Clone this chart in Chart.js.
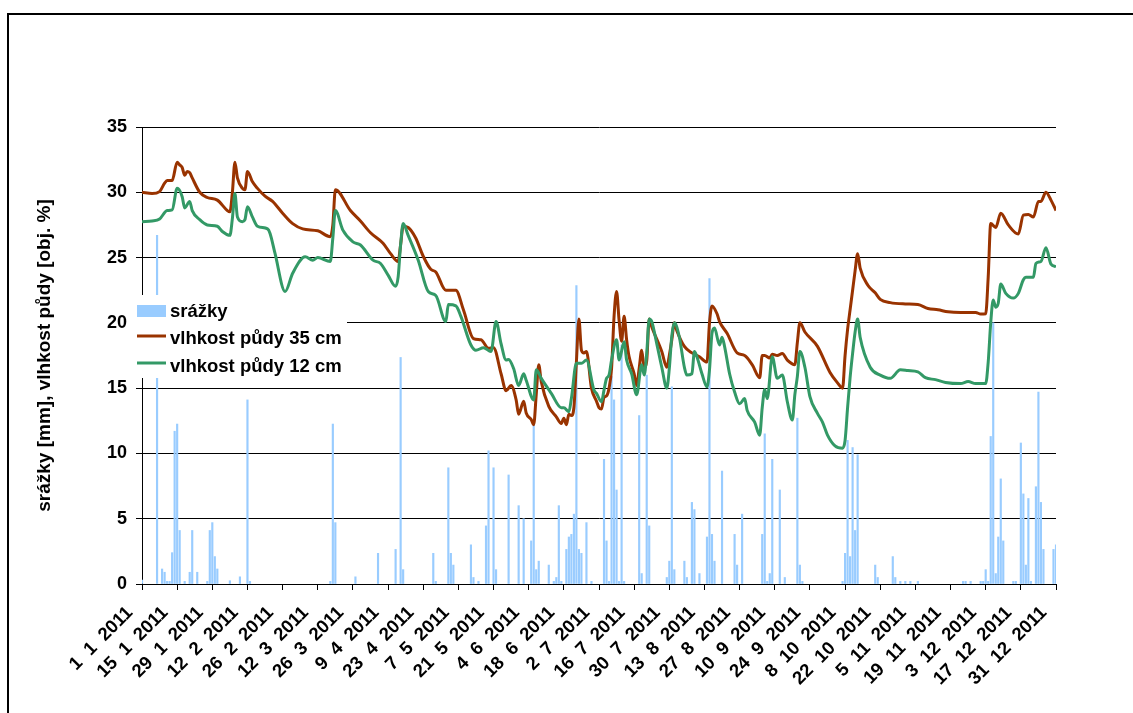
<!DOCTYPE html>
<html>
<head>
<meta charset="utf-8">
<script src="https://cdn.jsdelivr.net/npm/chart.js@4.4.1/dist/chart.umd.min.js"></script>
<style>
html,body{margin:0;padding:0;background:#fff;}
#wrap{position:relative;width:1133px;height:713px;overflow:hidden;}
canvas{display:block;}
</style>
</head>
<body>
<div id="wrap"><canvas id="c" width="1133" height="713"></canvas></div>
<script>
// ---- data (day index 0 = 1 1 2011) ----
const tickLabels = ["1  1  2011","15  1  2011","29  1  2011","12  2  2011","26  2  2011","12  3  2011","26  3  2011",
  "9  4  2011","23  4  2011","7  5  2011","21  5  2011","4  6  2011","18  6  2011","2  7  2011","16  7  2011",
  "30  7  2011","13  8  2011","27  8  2011","10  9  2011","24  9  2011","8  10  2011","22  10  2011","5  11  2011",
  "19  11  2011","3  12  2011","17  12  2011","31  12  2011"];
const seriesNames = ["srážky", "vlhkost půdy 35 cm", "vlhkost půdy 12 cm"];
const yAxisTitle = "srážky [mm], vlhkost půdy [obj. %]";

// precipitation [day, mm]
const rainfall = [[0,0.3],[6,26.7],[8,1.15],[9,0.9],[10,0.2],[11,0.2],[12,2.4],[13,11.7],[14,12.25],[15,4.1],[17,0.2],[19,0.9],[20,4.1],[22,0.9],[26,0.2],[27,4.1],[28,4.7],[29,2.1],[30,1.15],[35,0.25],[39,0.55],[42,14.1],[43,0.2],[75,0.2],[76,12.25],[77,4.7],[85,0.55],[94,2.35],[101,2.65],[103,17.35],[104,1.1],[116,2.35],[117,0.2],[122,8.9],[123,2.35],[124,1.45],[131,3.0],[132,0.5],[134,0.2],[137,4.45],[138,10.2],[140,8.9],[141,1.1],[146,8.35],[150,6.0],[152,5.0],[155,3.3],[156,12.25],[157,1.1],[158,1.75],[162,1.45],[164,0.2],[165,0.5],[166,6.0],[167,0.2],[169,2.65],[170,3.6],[171,3.8],[172,5.35],[173,22.85],[174,2.65],[175,2.35],[177,4.7],[179,0.2],[184,9.55],[185,3.3],[186,0.2],[187,15.9],[188,14.1],[189,7.2],[190,0.2],[191,18.3],[192,0.2],[198,12.9],[199,0.8],[201,16.0],[202,4.45],[209,0.5],[210,1.75],[211,15.1],[212,1.1],[216,1.75],[217,0.5],[219,6.25],[220,5.7],[222,0.8],[225,3.6],[226,23.4],[227,3.8],[228,1.75],[231,8.65],[236,3.8],[237,1.45],[239,5.35],[247,3.8],[248,11.5],[249,0.2],[250,0.8],[251,9.55],[254,7.2],[256,0.5],[261,12.7],[262,1.45],[263,0.2],[279,0.2],[280,2.35],[281,11.0],[282,2.1],[283,10.45],[284,4.1],[285,9.9],[292,1.45],[293,0.5],[299,2.1],[300,0.5],[302,0.2],[304,0.2],[306,0.2],[309,0.2],[327,0.2],[328,0.2],[330,0.2],[334,0.2],[335,0.2],[336,1.1],[337,0.2],[338,11.3],[339,20.0],[340,0.8],[341,3.6],[342,8.05],[343,3.3],[347,0.2],[348,0.2],[350,10.8],[351,6.9],[352,1.45],[353,6.55],[354,0.2],[356,7.45],[357,14.7],[358,6.25],[359,2.65],[363,2.65],[364,3.0]];

// soil moisture 35 cm [day, %]
const soil35 = [[0,30.0],[4,29.9],[7,30.05],[9,30.7],[10,30.9],[12,30.9],[14,32.3],[15,32.1],[16,31.9],[17,31.3],[18,31.6],[19,31.5],[20,31.1],[23,30.0],[26,29.6],[30,29.4],[34,28.6],[35,28.5],[36,30.0],[37,32.3],[38,31.1],[40,30.3],[41,30.2],[42,31.6],[44,30.8],[46,30.3],[49,29.7],[52,29.3],[56,28.4],[60,27.6],[64,27.2],[70,27.05],[75,26.6],[76,27.5],[77,30.2],[83,28.6],[87,27.8],[91,26.9],[96,26.1],[99,25.3],[102,24.7],[103,26.0],[104,27.4],[106,27.3],[109,26.5],[112,25.1],[115,24.1],[117,23.9],[121,22.5],[125,22.5],[128,21.0],[132,18.8],[135,18.7],[138,18.05],[140,18.1],[143,16.1],[145,14.8],[147,15.2],[149,14.1],[150,13.0],[152,14.0],[153,13.1],[155,12.6],[156,12.2],[157,14.5],[158,16.8],[159,15.5],[162,13.6],[165,12.8],[167,12.3],[168,12.7],[169,12.2],[170,13.0],[171,12.9],[172,13.5],[173,17.0],[174,20.3],[175,17.9],[176,17.7],[177,17.8],[179,15.0],[181,14.0],[182,13.5],[183,13.4],[184,14.3],[185,14.4],[186,15.0],[187,16.5],[188,20.5],[189,22.4],[190,20.2],[191,18.6],[192,20.5],[193,18.7],[194,17.4],[196,16.1],[197,15.2],[198,16.5],[199,17.9],[200,16.6],[201,17.1],[202,20.3],[203,19.7],[207,17.8],[209,16.6],[210,17.5],[211,18.7],[212,20.0],[213,19.4],[216,18.2],[219,17.7],[222,17.4],[225,17.0],[226,20.0],[227,21.3],[229,20.7],[230,20.1],[233,19.2],[237,17.7],[240,17.5],[243,16.8],[246,15.8],[247,17.5],[248,17.5],[250,17.3],[251,17.6],[253,17.5],[255,17.65],[257,17.15],[260,16.8],[261,18.5],[262,20.0],[264,19.3],[269,18.2],[274,16.2],[277,15.4],[279,15.0],[280,17.5],[281,19.5],[282,21.0],[283,22.5],[284,24.0],[285,25.3],[286,24.2],[289,22.9],[292,22.3],[294,21.8],[298,21.55],[304,21.45],[309,21.4],[313,21.1],[317,21.0],[321,20.85],[326,20.8],[332,20.8],[334,20.67],[336,20.7],[337,23.5],[338,27.6],[340,27.3],[342,28.4],[345,27.5],[349,26.8],[351,28.25],[353,28.3],[355,28.1],[357,29.3],[358,29.3],[360,30.0],[362,29.4],[364,28.6]];

// soil moisture 12 cm [day, %]
const soil12 = [[0,27.75],[4,27.8],[7,27.95],[10,28.6],[12,28.65],[14,30.3],[16,29.66],[17,28.8],[19,29.3],[20,28.6],[23,27.9],[26,27.5],[30,27.4],[32,27.0],[35,26.7],[36,28.0],[37,29.9],[38,28.1],[40,27.75],[41,27.9],[42,28.9],[44,28.1],[46,27.4],[50,27.2],[51,26.85],[53,25.3],[57,22.4],[60,23.8],[65,25.06],[68,24.8],[70,25.0],[75,24.7],[76,26.5],[77,28.6],[80,27.1],[84,26.2],[87,25.96],[92,24.8],[95,24.55],[98,23.66],[101,22.8],[102,23.5],[103,26.0],[104,27.6],[106,26.7],[110,24.8],[114,22.4],[117,22.1],[121,20.1],[122,21.4],[125,21.3],[127,20.5],[131,18.3],[133,17.9],[136,18.1],[139,17.8],[141,20.1],[143,18.4],[145,17.15],[146,17.2],[148,16.5],[150,15.2],[152,16.1],[153,15.6],[156,14.1],[157,16.4],[159,15.75],[163,14.6],[167,13.5],[168,13.5],[170,13.2],[171,14.2],[173,16.9],[175,16.9],[177,17.15],[180,14.85],[181,14.6],[183,13.96],[184,14.85],[185,15.75],[186,16.0],[187,17.15],[189,18.7],[190,17.15],[192,18.55],[193,17.15],[195,16.1],[197,14.5],[199,16.8],[200,16.0],[201,17.66],[202,20.3],[203,20.1],[205,18.4],[207,16.6],[209,15.0],[210,16.5],[211,19.0],[212,20.0],[214,18.9],[216,16.6],[217,16.0],[219,16.1],[220,17.8],[221,17.4],[223,16.1],[225,15.1],[226,16.4],[227,19.2],[228,19.6],[230,18.3],[231,18.9],[232,18.2],[234,16.1],[236,14.7],[238,13.8],[240,14.2],[241,13.3],[244,12.4],[246,11.4],[247,13.5],[248,14.9],[249,14.2],[251,17.4],[253,15.75],[255,16.0],[257,13.96],[259,12.56],[260,14.5],[261,15.9],[262,17.8],[264,16.6],[266,14.35],[269,13.07],[271,12.4],[273,11.4],[276,10.57],[279,10.4],[280,11.0],[281,13.5],[282,15.8],[283,17.66],[284,19.3],[285,20.3],[286,18.9],[290,16.6],[294,16.0],[298,15.75],[302,16.4],[305,16.35],[309,16.25],[312,15.8],[316,15.65],[320,15.44],[326,15.35],[329,15.5],[332,15.35],[336,15.35],[337,17.0],[338,20.0],[339,21.75],[340,21.2],[341,21.5],[342,22.97],[344,22.26],[347,21.9],[349,22.26],[351,23.3],[352,23.5],[355,23.5],[356,24.55],[358,24.7],[360,25.76],[362,24.5],[364,24.3]];

// ---- styling ----
const COL_RAIN = '#99CCFF', COL_35 = '#993300', COL_12 = '#339966';
const FONT = '"Liberation Sans", Arial, sans-serif';

const toXY = arr => arr.map(p => ({x: p[0], y: p[1]}));

const frameAndBg = {
  id: 'frameAndBg',
  beforeDraw(chart) {
    const ctx = chart.ctx;
    ctx.save();
    ctx.fillStyle = '#fff';
    ctx.fillRect(0, 0, chart.width, chart.height);
    ctx.fillStyle = '#000';
    ctx.fillRect(7, 13, chart.width, 2);
    ctx.fillRect(7, 13, 2, chart.height);
    ctx.restore();
  }
};

const boxLegend = {
  id: 'boxLegend',
  afterDatasetsDraw(chart) {
    const ctx = chart.ctx;
    ctx.save();
    ctx.fillStyle = '#fff';
    ctx.fillRect(134, 295, 213, 83);
    ctx.fillStyle = COL_RAIN;
    ctx.fillRect(137, 305, 29, 12);
    ctx.lineWidth = 3;
    ctx.strokeStyle = COL_35;
    ctx.beginPath(); ctx.moveTo(137, 336); ctx.lineTo(166, 336); ctx.stroke();
    ctx.strokeStyle = COL_12;
    ctx.beginPath(); ctx.moveTo(137, 363); ctx.lineTo(166, 363); ctx.stroke();
    ctx.fillStyle = '#000';
    ctx.font = 'bold 18.5px ' + FONT;
    ctx.textBaseline = 'alphabetic';
    ctx.textAlign = 'left';
    ctx.fillText(seriesNames[0], 170, 316.5);
    ctx.fillText(seriesNames[1], 170, 344);
    ctx.fillText(seriesNames[2], 170, 371.5);
    ctx.restore();
  }
};

new Chart(document.getElementById('c'), {
  type: 'bar',
  data: {
    datasets: [
      {
        type: 'line', label: seriesNames[2], data: toXY(soil12),
        borderColor: COL_12, backgroundColor: COL_12, borderWidth: 3,
        pointRadius: 0, cubicInterpolationMode: 'monotone', order: 1
      },
      {
        type: 'line', label: seriesNames[1], data: toXY(soil35),
        borderColor: COL_35, backgroundColor: COL_35, borderWidth: 3,
        pointRadius: 0, cubicInterpolationMode: 'monotone', order: 2
      },
      {
        type: 'bar', label: seriesNames[0], data: toXY(rainfall),
        backgroundColor: COL_RAIN, borderWidth: 0, barThickness: 1.5, order: 3
      }
    ]
  },
  options: {
    responsive: false,
    animation: false,
    events: [],
    layout: { padding: { left: 0, top: 127, right: 77, bottom: 0 } },
    plugins: { legend: { display: false }, tooltip: { enabled: false } },
    scales: {
      x: {
        type: 'linear', min: 0, max: 364, offset: false,
        afterFit(s) { s.height = 129; },
        grid: { display: true, drawOnChartArea: false, drawTicks: true, tickLength: 6, color: '#000', offset: false },
        border: { display: true, color: '#000', width: 1 },
        ticks: {
          stepSize: 14, autoSkip: false, maxRotation: 45, minRotation: 45, padding: 12, labelOffset: -12,
          color: '#000', font: { family: FONT, size: 18.5, weight: 'bold' },
          callback: v => (v % 14 === 0 ? tickLabels[Math.round(v / 14)] : '')
        }
      },
      y: {
        min: 0, max: 35,
        afterFit(s) { s.width = 142; },
        grid: { color: '#000', lineWidth: 1, drawTicks: true, tickLength: 6 },
        border: { display: true, color: '#000', width: 1 },
        ticks: { stepSize: 5, padding: 9, color: '#000', font: { family: FONT, size: 18, weight: 'bold' } },
        title: {
          display: true, text: yAxisTitle, color: '#000',
          font: { family: FONT, size: 19, weight: 'bold' },
          padding: { top: 33, bottom: 0 }
        }
      }
    }
  },
  plugins: [frameAndBg, boxLegend]
});
</script>
</body>
</html>
